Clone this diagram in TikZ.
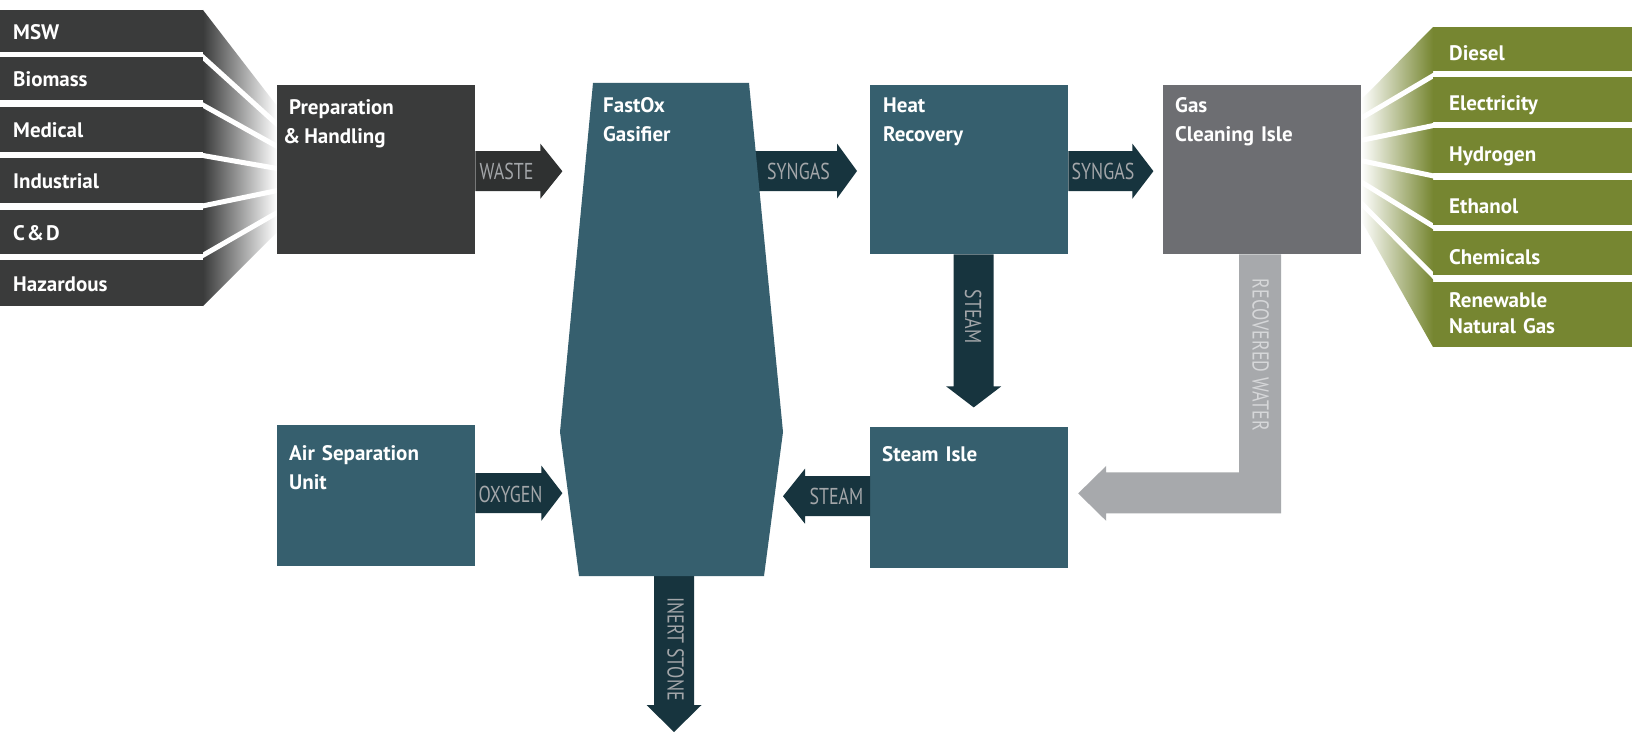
\documentclass[tikz,border=0pt]{standalone}
\usepackage{fontspec}
\setmainfont{PT Sans}
\newfontfamily\condfont[FakeStretch=0.78]{PT Sans}
\usetikzlibrary{positioning, calc}
\definecolor{boxdark}{HTML}{3A3B3B}
\definecolor{arrdark}{HTML}{2F3131}
\definecolor{boxteal}{HTML}{365F6E}
\definecolor{arrteal}{HTML}{17343E}
\definecolor{boxgray}{HTML}{6D6E72}
\definecolor{arrgray}{HTML}{A7A9AC}
\definecolor{outgreen}{HTML}{768631}
\definecolor{flowgray}{HTML}{A3A6A9}
\definecolor{waterlbl}{HTML}{D6D7D9}

\begin{document}
\begin{tikzpicture}[x=1pt, y=-1pt,
    inbar/.style={fill=boxdark, anchor=north west, minimum width=203pt, minimum height=44pt,
        inner xsep=13pt, inner ysep=0pt, text width=177pt, align=left, text height=16pt, text depth=0pt,
        text=white, font=\bfseries\fontsize{21}{26}\selectfont},
    outbar/.style={inbar, fill=outgreen, minimum width=199pt, inner xsep=16pt, text width=167pt, text height=22pt},
    unit/.style={anchor=north west, minimum width=198pt, minimum height=169pt, inner sep=0pt},
    unittext/.style={anchor=base west, inner sep=0pt, text width=180pt, align=left, text=white,
        font=\bfseries\fontsize{21}{29}\selectfont},
    flowtext/.style={inner sep=0pt, text height=16pt, text depth=0pt, text=flowgray,
        font=\condfont\fontsize{23}{23}\selectfont},
    pics/flow/.style n args={3}{code={
        \fill[#3] (0,-20) -- (#1,-20) -- (#1,-27.5) -- ({#1+#2},0) -- (#1,27.5) -- (#1,20) -- (0,20) -- cycle;
    }}]

    \fill[white] (0,0) rectangle (1632,733);
    \useasboundingbox (0,0) rectangle (1632,733);

    % feedstock fan
    \shade[left color=boxdark, right color=white] (203,10) -- (277,106) -- (277,232) -- (203,306) -- cycle;
    \draw[white, line width=5pt] (200,54.5) -- (280,127);
    \draw[white, line width=5pt] (200,103.5) -- (280,148);
    \draw[white, line width=5pt] (200,155) -- (280,169);
    \draw[white, line width=5pt] (200,206.5) -- (280,190);
    \draw[white, line width=5pt] (200,257) -- (280,211);

    \node[inbar, minimum height=42pt] (msw) at (0,10) {MSW};
    \node[inbar, minimum height=43pt] (biomass) at (0,57) {Biomass};
    \node[inbar, minimum height=45pt] (medical) at (0,107) {Medical};
    \node[inbar, minimum height=45pt] (industrial) at (0,158) {Industrial};
    \node[inbar, minimum height=44pt] (cd) at (0,210) {C {\kern-5pt}\&{\kern-5pt} D};
    \node[inbar, minimum height=46pt] (hazardous) at (0,260) {Hazardous};

    % products fan
    \shade[left color=white, right color=outgreen] (1361,100) -- (1433,27) -- (1433,347) -- (1361,220) -- cycle;
    \draw[white, line width=5pt] (1436,74) -- (1358,120);
    \draw[white, line width=5pt] (1436,125) -- (1358,141);
    \draw[white, line width=5pt] (1436,176.5) -- (1358,160);
    \draw[white, line width=5pt] (1436,228) -- (1358,180);
    \draw[white, line width=5pt] (1436,278.5) -- (1358,200);

    \node[outbar, minimum height=44pt] (diesel) at (1433,27) {Diesel};
    \node[outbar, minimum height=45pt] (electricity) at (1433,77) {Electricity};
    \node[outbar, minimum height=45pt] (hydrogen) at (1433,128) {Hydrogen};
    \node[outbar, minimum height=45pt] (ethanol) at (1433,180) {Ethanol};
    \node[outbar, minimum height=44pt] (chemicals) at (1433,231) {Chemicals};
    \node[outbar, minimum height=65pt, text height=11pt, text depth=26pt] (rng) at (1433,282) {Renewable\\Natural Gas};

    % process units
    \node[unit, fill=boxdark] (prep) at (277,85) {};
    \node[unit, fill=boxteal] (heat) at (870,85) {};
    \node[unit, fill=boxgray] (gas) at (1163,85) {};
    \node[unit, fill=boxteal, minimum height=141pt] (asu) at (277,425) {};
    \node[unit, fill=boxteal, minimum height=141pt] (steam) at (870,427) {};

    \coordinate (fastox-e) at (752,171);
    \coordinate (fastox-s) at (674,576);
    \coordinate (gas-s) at ([xshift=-2]gas.south);

    % flows
    \pic (wastearr) at ([yshift=-1.5]prep.east) {flow={65}{22}{arrdark}};
    \pic (syngasa) at (fastox-e) {flow={85}{20}{arrteal}};
    \pic (syngasb) at ([yshift=-1.5]heat.east) {flow={64}{21}{arrteal}};
    \pic[rotate=-90] (steama) at ([xshift=4.5]heat.south) {flow={132}{21}{arrteal}};
    \pic[rotate=180] (steamb) at ([yshift=1.5]steam.west) {flow={65}{22}{arrteal}};
    \pic (oxygenarr) at ([yshift=2.5]asu.east) {flow={66}{21}{arrteal}};
    \pic[rotate=-90] (stonearr) at (fastox-s) {flow={129}{27}{arrteal}};
    \fill[arrgray] ([xshift=-21]gas-s) -- ++(0,218) -- ++(-133,0) -- ++(0,-6.5) -- ++(-28,27.5)
        -- ++(28,27.5) -- ++(0,-7.5) -- ++(175,0) -- ++(0,-259) -- cycle;

    % gasifier
    \fill[boxteal] (593,83) -- (749,83) -- (783,432) -- (764,576) -- (579,576) -- (560,432) -- cycle;

    \node[unittext] (prep-t) at ([xshift=12,yshift=-29]prep.north west)
        {Preparation\\\hspace*{-6pt}\&\hspace{-3pt} Handling};
    \node[unittext] (fastox-t) at (603,113) {FastOx\\Gasifier};
    \node[unittext] (heat-t) at ([xshift=13,yshift=-28]heat.north west) {Heat\\Recovery};
    \node[unittext] (gas-t) at ([xshift=12,yshift=-28]gas.north west) {Gas\\Cleaning Isle};
    \node[unittext] (asu-t) at ([xshift=12,yshift=-35]asu.north west) {Air Separation\\Unit};
    \node[unittext] (steam-t) at ([xshift=12,yshift=-34]steam.north west) {Steam Isle};

    \node[flowtext] (waste-l) at (506.5,171) {WASTE};
    \node[flowtext] (syngasa-l) at (798.5,171) {SYNGAS};
    \node[flowtext] (syngasb-l) at (1103,171) {SYNGAS};
    \node[flowtext] (oxygen-l) at (510.5,494) {OXYGEN};
    \node[flowtext] (steamb-l) at (836.5,496.5) {STEAM};
    \node[flowtext, rotate=-90] (steama-l) at (973,316.5) {STEAM};
    \node[flowtext, rotate=-90, text=waterlbl] (water-l) at (1260.5,355) {RECOVERED WATER};
    \node[flowtext, rotate=-90] (stone-l) at (675.5,649) {INERT STONE};
\end{tikzpicture}
\end{document}
